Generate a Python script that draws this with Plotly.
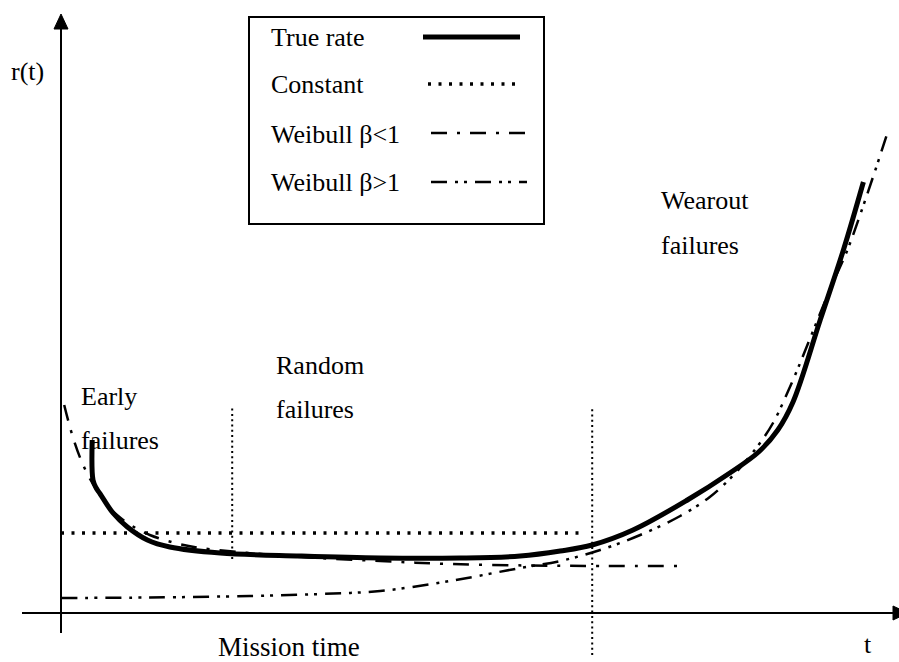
import plotly.graph_objects as go

W, H = 899, 662

# ---- data: bathtub hazard rate curves (t in arbitrary time units, r in arbitrary rate units)
true_t = [0.39, 0.40, 0.44, 0.49, 0.65, 0.83, 1.08, 1.36, 1.99, 2.99, 3.99, 4.99, 5.74,
          6.24, 6.64, 7.15, 7.83, 8.36, 8.72, 8.96, 9.15, 9.49, 9.78, 10.03]
true_r = [3.46, 2.66, 2.50, 2.38, 2.00, 1.72, 1.46, 1.32, 1.20, 1.14, 1.10, 1.10, 1.14,
          1.24, 1.36, 1.66, 2.26, 2.80, 3.22, 3.66, 4.22, 5.86, 7.26, 8.62]

const_t = [0.0, 6.55]
const_r = [1.6, 1.6]

wb_lo_t = [0.04, 0.14, 0.24, 0.33, 0.43, 0.55, 0.70, 0.89, 1.11, 1.43, 1.74, 2.36,
           2.99, 3.99, 4.86, 5.86, 6.74, 7.70]
wb_lo_r = [4.16, 3.56, 3.10, 2.78, 2.50, 2.22, 1.96, 1.74, 1.56, 1.40, 1.30, 1.20,
           1.12, 1.04, 0.98, 0.95, 0.94, 0.94]

wb_hi_t = [0.0, 1.11, 2.36, 3.24, 3.99, 4.86, 5.74, 6.24, 6.74, 7.24, 7.74, 8.11,
           8.43, 8.70, 8.90, 9.15, 9.34, 9.61, 9.83, 10.01, 10.20, 10.33]
wb_hi_r = [0.30, 0.31, 0.34, 0.38, 0.44, 0.64, 0.90, 1.04, 1.26, 1.56, 1.94, 2.32,
           2.80, 3.32, 3.80, 4.66, 5.40, 6.46, 7.26, 8.06, 8.96, 9.60]

# phase boundaries (early | random | wearout)
boundary_t = [2.14, 6.64]
boundary_top = [4.1, 4.1]
boundary_bottom = [1.08, -0.84]

series_names = ["True rate", "Constant", "Weibull \u03b2<1", "Weibull \u03b2>1"]
phase_labels = [("Early", "failures"), ("Random", "failures"), ("Wearout", "failures")]

FONT = "Liberation Serif"
FS = 26
BLACK = "#000000"

DASH_LO = "16px,10px,3px,10px"
DASH_HI = "16px,8px,3px,6px,3px,8px"
DASH_DOT = "3px,7.5px"

# plot frame: 80 px per t unit, 50 px per r unit, origin at (61, 613)
X0, XS, Y0, YS = 61, 80.0, 613, 50.0
x_range = [-X0 / XS, (W - X0) / XS]
y_range = [(Y0 - H) / YS, Y0 / YS]


def px(x):
    return x / W


def py(y):
    return 1 - y / H


fig = go.Figure()

fig.add_trace(go.Scatter(x=wb_hi_t, y=wb_hi_r, mode="lines", name=series_names[3],
                         line=dict(color=BLACK, width=2.5, dash=DASH_HI, shape="spline", smoothing=1)))
fig.add_trace(go.Scatter(x=wb_lo_t, y=wb_lo_r, mode="lines", name=series_names[2],
                         line=dict(color=BLACK, width=2.5, dash=DASH_LO, shape="spline", smoothing=1)))
fig.add_trace(go.Scatter(x=const_t, y=const_r, mode="lines", name=series_names[1],
                         line=dict(color=BLACK, width=3.5, dash=DASH_DOT)))
fig.add_trace(go.Scatter(x=true_t, y=true_r, mode="lines", name=series_names[0],
                         line=dict(color=BLACK, width=5, shape="spline", smoothing=1)))

# phase boundary markers
for bt, top, bot in zip(boundary_t, boundary_top, boundary_bottom):
    fig.add_trace(go.Scatter(x=[bt, bt], y=[bot, top], mode="lines",
                             line=dict(color=BLACK, width=2, dash="2px,3.3px")))

# axes with arrowheads
x_start, x_end = (22 - X0) / XS, (893 - X0) / XS
y_start, y_end = (Y0 - 633) / YS, (Y0 - 29) / YS
fig.add_trace(go.Scatter(x=[x_start, x_end], y=[0, 0], mode="lines",
                         line=dict(color=BLACK, width=2)))
fig.add_trace(go.Scatter(x=[0, 0], y=[y_start, y_end], mode="lines",
                         line=dict(color=BLACK, width=2)))
hw_t, hw_r = 7 / XS, 7 / YS
tip_x = (908 - X0) / XS
tip_y = (Y0 - 14) / YS
fig.add_trace(go.Scatter(x=[x_end, tip_x, x_end, x_end], y=[hw_r, 0, -hw_r, hw_r],
                         mode="lines", fill="toself", fillcolor=BLACK,
                         line=dict(color=BLACK, width=1)))
fig.add_trace(go.Scatter(x=[-hw_t, 0, hw_t, -hw_t], y=[y_end, tip_y, y_end, y_end],
                         mode="lines", fill="toself", fillcolor=BLACK,
                         line=dict(color=BLACK, width=1)))

shapes = []
annotations = []


def label(text, x, y, xanchor="left", yanchor="middle", size=FS):
    annotations.append(dict(text=text, x=px(x), y=py(y), xref="paper", yref="paper",
                            xanchor=xanchor, yanchor=yanchor, showarrow=False,
                            font=dict(family=FONT, size=size, color=BLACK)))


label("r(t)", 9, 72)
phase_pos = [(79, 397), (274, 366), (659, 201)]
for (first, second), (lx, ly) in zip(phase_labels, phase_pos):
    label(first, lx, ly)
    label(second, lx, ly + 44)
label("Mission time", 289, 647, xanchor="center", size=27)
label("t", 868, 644, xanchor="center")

# legend box with samples placed to the right of the text
shapes.append(dict(type="rect", xref="paper", yref="paper",
                   x0=px(249), x1=px(544), y0=py(17), y1=py(224),
                   line=dict(color=BLACK, width=2), fillcolor="white", layer="above"))
leg_y = [38, 85, 134, 183]
leg_styles = [dict(width=5, dash="solid"), dict(width=3.5, dash=DASH_DOT),
              dict(width=2.5, dash=DASH_LO), dict(width=2.5, dash=DASH_HI)]
leg_x = [(423, 520), (428, 520), (431, 527), (431, 527)]
for name, yy, st, (xa, xb) in zip(series_names, leg_y, leg_styles, leg_x):
    label(name, 269, yy)
    shapes.append(dict(type="line", xref="paper", yref="paper",
                       x0=px(xa), x1=px(xb), y0=py(yy - 1), y1=py(yy - 1),
                       line=dict(color=BLACK, **st), layer="above"))

fig.update_layout(
    width=W, height=H, margin=dict(l=0, r=0, t=0, b=0),
    paper_bgcolor="white", plot_bgcolor="white", showlegend=False,
    xaxis=dict(range=x_range, visible=False, fixedrange=True),
    yaxis=dict(range=y_range, visible=False, fixedrange=True),
    shapes=shapes, annotations=annotations,
)

fig.write_html("out.html")
